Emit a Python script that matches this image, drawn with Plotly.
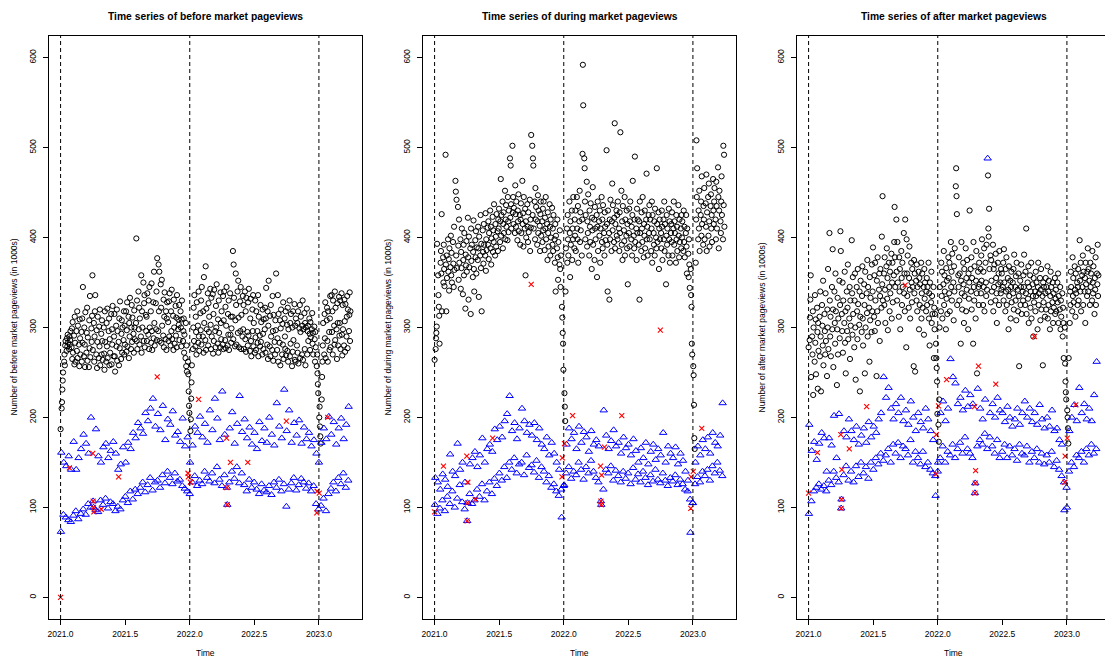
import pandas as pd
import plotly.graph_objects as go

# ---------------- DATA ----------------
# Weekday pageviews (in 1000s), one inner list per month, Jan 2021 .. Mar 2023
before_wd = [
    [187, 210, 217, 231, 241, 250, 262, 270, 258, 280, 285, 274, 288, 279, 292, 283, 276, 290, 281, 286, 296],
    [278, 299, 265, 306, 272, 291, 259, 312, 283, 262, 296, 274, 318, 266, 302, 281, 257, 309, 288, 270],
    [295, 262, 310, 283, 345, 268, 300, 281, 256, 317, 272, 294, 322, 263, 289, 256, 308, 277, 335, 267, 299, 284, 313],
    [358, 275, 305, 262, 290, 318, 336, 270, 297, 255, 284, 312, 266, 301, 279, 320, 258, 293, 270, 308, 285, 264],
    [300, 271, 253, 318, 284, 262, 305, 279, 321, 266, 296, 310, 258, 287, 272, 315, 259, 298, 281, 324, 268],
    [290, 315, 268, 251, 302, 279, 320, 263, 296, 284, 258, 310, 277, 329, 265, 293, 308, 272, 300, 286, 318, 270],
    [302, 281, 318, 273, 297, 328, 279, 312, 266, 305, 290, 333, 276, 300, 325, 284, 311, 293, 272, 319, 300, 287],
    [305, 399, 285, 330, 276, 340, 298, 322, 281, 310, 290, 358, 272, 318, 300, 350, 285, 327, 336, 278, 314, 296],
    [312, 285, 338, 292, 330, 276, 345, 300, 318, 283, 349, 296, 275, 328, 288, 362, 305, 280, 327, 298, 340, 286],
    [377, 296, 370, 318, 362, 285, 348, 322, 283, 353, 302, 291, 331, 278, 312, 339, 287, 318, 275, 310, 328],
    [306, 285, 329, 290, 338, 280, 318, 296, 342, 287, 313, 275, 331, 300, 282, 324, 291, 311, 278, 336, 298, 309],
    [303, 325, 286, 318, 300, 279, 309, 330, 285, 296, 310, 272, 292, 266, 305, 257, 280, 251, 262, 248, 229, 213, 205],
    [185, 198, 221, 239, 258, 276, 300, 322, 285, 336, 279, 312, 295, 270, 328, 302, 283, 340, 290, 274, 316],
    [297, 330, 281, 345, 290, 318, 272, 356, 305, 286, 368, 275, 321, 298, 338, 280, 327, 295, 312, 343],
    [303, 276, 333, 290, 337, 271, 315, 285, 342, 296, 278, 324, 300, 348, 282, 309, 272, 330, 294, 278, 339, 305, 287],
    [318, 281, 335, 276, 308, 340, 286, 323, 277, 302, 345, 280, 315, 292, 330, 275, 338, 292, 312, 283, 299],
    [312, 385, 287, 370, 333, 279, 308, 360, 325, 281, 340, 294, 352, 311, 278, 329, 296, 345, 276, 314, 290, 335],
    [298, 325, 276, 340, 287, 318, 273, 333, 295, 280, 328, 291, 343, 274, 310, 332, 285, 268, 320, 296, 336, 279],
    [305, 272, 330, 289, 275, 318, 296, 283, 336, 268, 312, 291, 279, 325, 284, 306, 270, 320, 293, 276, 309],
    [298, 322, 272, 310, 344, 281, 318, 265, 302, 352, 279, 313, 268, 325, 290, 275, 335, 296, 263, 314, 284, 270, 308],
    [297, 360, 275, 288, 336, 262, 315, 283, 308, 258, 299, 320, 270, 304, 281, 328, 265, 310, 290, 276, 318, 269],
    [303, 274, 322, 262, 298, 330, 268, 305, 282, 315, 257, 300, 273, 318, 286, 326, 264, 302, 262, 310, 280],
    [305, 272, 318, 260, 299, 325, 266, 295, 312, 270, 302, 330, 264, 298, 316, 276, 305, 258, 300, 321, 270, 296],
    [302, 285, 310, 293, 275, 306, 289, 298, 316, 282, 294, 270, 301, 287, 262, 295, 278, 257, 270, 249, 237, 227],
    [200, 212, 190, 179, 171, 220, 245, 262, 280, 305, 270, 315, 288, 328, 266, 308, 322, 285, 262, 318, 295, 275],
    [310, 335, 278, 336, 295, 318, 270, 330, 302, 281, 340, 286, 322, 298, 265, 327, 305, 280, 334, 291],
    [305, 330, 276, 338, 292, 269, 325, 298, 280, 331, 307, 273, 326, 290, 312, 335, 277, 320, 296, 314, 339, 285, 318],
]
during_wd = [
    [264, 276, 288, 294, 301, 393, 358, 336, 323, 313, 282, 372, 385, 360, 426, 318, 378, 350, 392, 365, 346],
    [492, 370, 318, 380, 355, 398, 362, 376, 341, 388, 367, 402, 358, 383, 350, 395, 371, 345, 412, 364],
    [463, 451, 380, 442, 366, 434, 391, 353, 420, 372, 398, 343, 384, 366, 410, 337, 375, 392, 358, 405, 321, 381, 369],
    [396, 362, 422, 378, 331, 401, 367, 388, 315, 410, 374, 392, 356, 384, 419, 365, 340, 397, 378, 407, 360, 389],
    [375, 412, 388, 334, 401, 380, 425, 366, 393, 318, 408, 384, 371, 415, 392, 380, 427, 363, 398, 386, 411],
    [392, 418, 376, 405, 430, 388, 412, 370, 399, 423, 384, 408, 395, 437, 380, 415, 401, 390, 426, 407, 385, 420],
    [410, 432, 395, 418, 465, 402, 425, 440, 388, 415, 428, 405, 452, 398, 420, 436, 412, 397, 445, 418, 406, 430],
    [488, 422, 480, 437, 410, 502, 428, 445, 415, 433, 405, 458, 426, 412, 440, 397, 430, 418, 448, 407, 425, 392],
    [420, 438, 405, 463, 415, 427, 390, 445, 410, 432, 358, 418, 400, 437, 412, 395, 428, 406, 442, 385, 420, 411],
    [514, 502, 425, 488, 480, 410, 440, 398, 455, 420, 434, 392, 418, 447, 405, 430, 413, 385, 426, 440, 402],
    [418, 395, 432, 408, 440, 386, 422, 410, 445, 398, 415, 375, 428, 405, 390, 437, 412, 380, 420, 400, 433, 392],
    [410, 385, 425, 398, 372, 415, 340, 402, 388, 420, 378, 353, 395, 370, 408, 365, 345, 380, 323, 311, 294, 282, 253],
    [227, 212, 196, 340, 388, 410, 372, 425, 398, 380, 440, 405, 356, 418, 392, 430, 375, 410, 398, 445, 388],
    [420, 402, 430, 385, 445, 410, 398, 435, 372, 418, 452, 395, 428, 408, 380, 420, 493, 592, 547, 488],
    [477, 440, 398, 425, 462, 390, 418, 405, 448, 380, 430, 412, 395, 438, 365, 422, 408, 456, 392, 420, 375, 434, 410],
    [398, 425, 356, 412, 440, 385, 418, 402, 430, 372, 410, 445, 395, 420, 388, 436, 405, 380, 428, 412, 397],
    [497, 415, 392, 340, 430, 405, 331, 420, 398, 442, 385, 418, 460, 408, 436, 395, 422, 527, 388, 415, 430, 402],
    [425, 398, 440, 410, 385, 428, 405, 517, 452, 392, 418, 375, 435, 408, 396, 445, 380, 420, 402, 430, 388, 415],
    [348, 405, 432, 390, 418, 440, 398, 412, 380, 425, 463, 402, 388, 420, 490, 395, 410, 375, 432, 405, 420],
    [392, 418, 331, 440, 405, 385, 428, 410, 395, 445, 378, 415, 402, 430, 388, 420, 471, 398, 412, 380, 425, 405, 436],
    [398, 420, 385, 410, 440, 372, 425, 405, 392, 418, 380, 432, 400, 388, 477, 415, 395, 428, 365, 410, 420, 398],
    [405, 388, 430, 412, 375, 420, 398, 440, 385, 415, 348, 402, 425, 392, 410, 380, 432, 398, 418, 372, 405],
    [415, 395, 428, 380, 410, 440, 392, 418, 405, 372, 425, 398, 412, 385, 436, 402, 378, 420, 395, 410, 388, 425],
    [400, 418, 385, 430, 395, 412, 378, 405, 425, 390, 360, 410, 382, 356, 398, 370, 344, 365, 336, 323, 282, 270],
    [257, 247, 214, 177, 165, 372, 420, 508, 445, 477, 398, 430, 410, 452, 385, 425, 440, 402, 468, 415, 392, 435],
    [420, 455, 398, 438, 412, 470, 385, 428, 445, 402, 460, 418, 390, 435, 448, 410, 425, 395, 465, 430],
    [415, 440, 455, 420, 398, 462, 435, 410, 478, 445, 388, 430, 452, 418, 405, 440, 468, 425, 398, 502, 436, 492, 412],
]
after_wd = [
    [278, 286, 311, 331, 358, 245, 290, 270, 318, 225, 300, 262, 336, 283, 309, 248, 322, 295, 232, 305, 274],
    [312, 268, 340, 290, 229, 325, 302, 280, 352, 258, 315, 296, 270, 338, 285, 246, 320, 300, 365, 276],
    [405, 330, 290, 312, 268, 345, 298, 387, 320, 256, 340, 305, 282, 360, 318, 236, 298, 333, 270, 310, 352, 288, 325],
    [407, 385, 315, 296, 350, 272, 330, 305, 362, 283, 318, 249, 340, 296, 322, 370, 287, 310, 345, 265, 330, 302],
    [397, 338, 292, 356, 315, 278, 330, 360, 300, 242, 345, 318, 287, 365, 326, 303, 340, 229, 312, 352, 295],
    [335, 368, 310, 280, 348, 325, 249, 362, 300, 338, 316, 375, 290, 345, 322, 262, 356, 308, 333, 295, 370, 318],
    [340, 389, 312, 358, 296, 372, 330, 246, 352, 318, 378, 305, 342, 360, 285, 335, 365, 322, 401, 348, 446, 330],
    [360, 325, 378, 342, 305, 368, 388, 332, 355, 297, 372, 345, 318, 362, 338, 382, 310, 350, 372, 328, 358, 395],
    [434, 378, 345, 420, 362, 330, 395, 350, 312, 378, 340, 365, 298, 385, 355, 325, 372, 345, 405, 338, 360, 318],
    [420, 278, 398, 360, 335, 380, 322, 355, 390, 342, 310, 372, 350, 328, 365, 345, 257, 375, 338, 360, 251],
    [352, 330, 370, 318, 345, 362, 298, 355, 325, 348, 372, 310, 338, 360, 322, 345, 292, 365, 332, 350, 318, 340],
    [355, 325, 345, 372, 310, 338, 280, 350, 328, 362, 305, 335, 315, 345, 266, 322, 298, 315, 282, 266, 255, 240, 204],
    [192, 173, 220, 300, 345, 318, 372, 335, 362, 310, 348, 385, 325, 358, 340, 298, 366, 332, 352, 315, 378],
    [355, 338, 372, 318, 395, 345, 362, 330, 382, 350, 308, 368, 340, 388, 457, 477, 446, 426, 325, 358],
    [345, 378, 330, 360, 282, 352, 395, 338, 320, 372, 348, 305, 365, 335, 388, 318, 355, 342, 375, 298, 360, 332, 350],
    [430, 365, 340, 378, 320, 355, 282, 395, 345, 330, 368, 310, 352, 385, 338, 249, 362, 345, 325, 372, 348],
    [365, 338, 380, 352, 398, 325, 362, 345, 388, 318, 372, 350, 335, 392, 342, 469, 410, 401, 432, 365, 380, 328],
    [375, 352, 340, 392, 318, 365, 345, 370, 330, 382, 355, 338, 305, 372, 348, 360, 325, 385, 350, 338, 365, 342],
    [360, 345, 372, 330, 387, 350, 318, 365, 340, 378, 325, 355, 342, 298, 368, 335, 352, 310, 345, 362, 328],
    [350, 338, 365, 320, 381, 345, 330, 357, 308, 372, 342, 318, 360, 335, 257, 352, 325, 345, 370, 315, 340, 330, 358],
    [345, 381, 325, 362, 338, 410, 315, 350, 332, 368, 305, 345, 358, 322, 340, 372, 310, 348, 335, 290, 355, 328],
    [340, 318, 362, 335, 350, 298, 345, 372, 325, 338, 355, 308, 342, 365, 320, 335, 258, 350, 328, 345, 312],
    [338, 355, 320, 345, 368, 310, 340, 325, 352, 298, 335, 362, 318, 345, 328, 350, 305, 338, 322, 355, 315, 332],
    [342, 318, 350, 328, 360, 305, 335, 320, 345, 298, 330, 312, 338, 290, 322, 305, 266, 300, 260, 240, 228, 220],
    [208, 200, 188, 171, 266, 305, 340, 325, 362, 345, 318, 378, 335, 355, 328, 368, 342, 312, 360, 338, 350, 325],
    [345, 365, 330, 397, 352, 340, 372, 318, 358, 345, 380, 325, 362, 340, 355, 305, 372, 348, 335, 362],
    [388, 340, 365, 352, 325, 372, 345, 360, 330, 385, 350, 338, 368, 315, 355, 342, 378, 325, 360, 348, 392, 335, 358],
]

# Weekend pageviews: every Saturday / Sunday from 2 Jan 2021 to 26 Mar 2023
before_sat = [73, 92, 89, 86, 84, 91, 96, 87, 93, 98, 92, 104, 100, 107, 97, 95, 108,
              103, 110, 99, 106, 104, 96, 101, 98, 108, 112, 105, 118, 109, 120, 115, 122, 128, 117,
              125, 133, 119, 128, 130, 122, 136, 127, 140, 133, 126, 138, 129, 131, 124, 121, 118,
              115, 128, 135, 124, 130, 126, 140, 133, 129, 138, 127, 145, 131, 124, 136, 122, 128, 140,
              132, 145, 127, 138, 125, 118, 131, 122, 128, 120, 115, 126, 119, 117, 124, 114, 128,
              122, 131, 118, 126, 101, 120, 127, 133, 119, 125, 132, 128, 121, 127, 118, 124, 104, 98,
              102, 110, 96, 115, 121, 128, 118, 133, 126, 138, 122, 130]
before_sun = [161, 150, 146, 157, 142, 173, 142, 155, 165, 181, 171, 160, 200, 100, 187, 157, 150,
              167, 171, 155, 163, 173, 160, 142, 148, 167, 150, 172, 165, 183, 177, 194, 188, 182, 205,
              196, 210, 221, 190, 204, 186, 213, 175, 198, 192, 207, 180, 184, 173, 199, 168, 178,
              150, 169, 190, 183, 201, 178, 193, 172, 208, 186, 221, 199, 175, 229, 181, 103, 188,
              206, 171, 193, 224, 184, 198, 177, 189, 170, 183, 165, 195, 174, 188, 172, 200, 181, 169,
              216, 190, 177, 231, 185, 208, 172, 194, 180, 197, 171, 189, 176, 183, 168, 175, 160,
              150, 172, 188, 176, 201, 181, 195, 170, 188, 199, 176, 192, 212]
during_sat = [103, 93, 99, 108, 96, 112, 104, 118, 100, 110, 125, 106, 98, 85, 115, 104, 108,
              120, 112, 126, 108, 118, 128, 115, 132, 124, 138, 130, 145, 133, 150, 142, 155, 138, 148,
              150, 136, 158, 144, 147, 139, 152, 133, 145, 140, 128, 135, 122, 126, 118, 113, 120,
              124, 138, 145, 132, 140, 136, 150, 142, 131, 145, 138, 152, 140, 133, 128, 107, 120, 142,
              138, 146, 130, 141, 135, 128, 140, 132, 138, 126, 144, 131, 137, 128, 140, 133, 125,
              136, 129, 142, 131, 127, 138, 130, 124, 133, 129, 136, 125, 131, 126, 120, 118, 109, 105,
              126, 134, 128, 140, 135, 142, 130, 146, 138, 150, 141, 135]
during_sun = [133, 128, 120, 137, 131, 123, 159, 140, 135, 171, 142, 150, 128, 105, 148, 155, 162,
              145, 158, 177, 150, 165, 170, 162, 187, 175, 190, 178, 196, 204, 224, 185, 194, 176, 188,
              210, 196, 183, 192, 180, 194, 175, 188, 170, 165, 178, 158, 172, 160, 150, 142, 89,
              125, 170, 188, 176, 183, 165, 190, 172, 184, 178, 162, 185, 170, 175, 168, 103, 208,
              180, 165, 174, 186, 168, 172, 160, 178, 166, 170, 158, 176, 163, 150, 166, 155, 172, 148,
              162, 170, 153, 165, 158, 183, 150, 168, 160, 155, 167, 148, 160, 152, 140, 130, 72,
              105, 150, 168, 158, 175, 165, 178, 160, 183, 172, 168, 180, 216]
after_sat = [93, 107, 118, 122, 126, 120, 124, 118, 130, 125, 140, 133, 128, 99, 136, 146, 130,
             140, 128, 146, 134, 150, 138, 145, 132, 150, 142, 155, 148, 160, 152, 158, 165, 150, 170,
             160, 172, 155, 168, 165, 158, 175, 150, 162, 155, 148, 162, 145, 150, 142, 138, 135,
             140, 155, 168, 150, 162, 158, 170, 155, 165, 172, 160, 178, 165, 160, 155, 116, 168, 175,
             170, 182, 165, 178, 168, 160, 175, 155, 162, 170, 155, 168, 158, 165, 152, 170, 160,
             158, 168, 150, 162, 155, 165, 150, 160, 148, 158, 150, 162, 145, 152, 142, 135, 128, 122,
             140, 150, 145, 158, 155, 162, 150, 165, 158, 170, 160, 165]
after_sun = [192, 163, 173, 153, 171, 183, 177, 140, 177, 169, 202, 155, 204, 109, 185, 178, 198,
             185, 175, 190, 170, 180, 188, 172, 195, 178, 190, 183, 198, 205, 245, 222, 233, 210, 198,
             215, 205, 222, 196, 208, 192, 218, 200, 185, 205, 195, 188, 210, 198, 185, 175, 113,
             150, 205, 218, 196, 210, 265, 245, 238, 215, 222, 208, 230, 212, 225, 215, 127, 232,
             210, 198, 220, 488, 205, 215, 200, 222, 208, 205, 195, 212, 200, 190, 198, 210, 192, 205,
             218, 200, 210, 195, 205, 192, 214, 198, 188, 200, 190, 208, 185, 188, 175, 170, 97,
             100, 185, 200, 214, 196, 233, 205, 215, 198, 210, 196, 225, 262]

# Holidays (red crosses)
holiday_dates = ["2021-01-01", "2021-01-26", "2021-04-02", "2021-04-03", "2021-04-04", "2021-04-05",
                 "2021-04-26", "2021-06-14", "2021-10-01", "2021-12-27", "2021-12-28", "2022-01-03",
                 "2022-01-26", "2022-04-15", "2022-04-16", "2022-04-17", "2022-04-18", "2022-04-26",
                 "2022-06-14", "2022-10-01", "2022-12-26", "2022-12-27", "2023-01-02", "2023-01-26"]
before_hol = [0, 144, 160, 107, 100, 95, 98, 134, 245, 138, 134, 128,
              220, 177, 122, 103, None, 150, 150, 196, 94, 118, 116, 200]
during_hol = [95, 146, 157, 85, 105, 128, 109, 177, 348, 134, 155, 171,
              202, 146, 107, 103, 136, 167, 202, 297, 99, 134, 140, 188]
after_hol = [116, 161, 181, 99, 109, 142, 165, 212, 347, 137, 181, 213,
             242, 212, 116, 127, 141, 257, 237, 290, 128, 157, 177, 214]

titles = ["Time series of before market pageviews",
          "Time series of during market pageviews",
          "Time series of after market pageviews"]
ylabels = ["Number of before market pageviews (in 1000s)",
           "Number of during market pageviews (in 1000s)",
           "Number of after market pageviews (in 1000s)"]
year_lines = [2021, 2022, 2023]
x_ticks = [2021.0, 2021.5, 2022.0, 2022.5, 2023.0]
y_ticks = [0, 100, 200, 300, 400, 500, 600]

# ---------------- HELPERS ----------------
def dec_year(d):
    return d.year + (d.dayofyear - 1) / 365.0

months = pd.period_range("2021-01", "2023-03", freq="M")

def weekday_xy(month_lists):
    xs, ys = [], []
    for per, vals in zip(months, month_lists):
        days = pd.bdate_range(per.start_time.normalize(), per.end_time.normalize())
        for d, v in zip(days, vals):
            xs.append(dec_year(d))
            ys.append(v)
    return xs, ys

end_date = pd.Timestamp("2023-03-31")
sats = pd.date_range("2021-01-02", end_date, freq="W-SAT")
suns = pd.date_range("2021-01-03", end_date, freq="W-SUN")

def weekend_xy(sat_vals, sun_vals):
    xs, ys = [], []
    for d, v in zip(sats, sat_vals):
        xs.append(dec_year(d)); ys.append(v)
    for d, v in zip(suns, sun_vals):
        xs.append(dec_year(d)); ys.append(v)
    return xs, ys

def holiday_xy(vals):
    xs, ys = [], []
    for ds, v in zip(holiday_dates, vals):
        if v is None:
            continue
        xs.append(dec_year(pd.Timestamp(ds)))
        ys.append(v)
    return xs, ys

# ---------------- FIGURE ----------------
W, H = 1105, 659
FONT = "Liberation Sans, Arial, Helvetica, sans-serif"
box_top, box_bot = 36, 619
panel_px = [(49, 362), (423, 736), (797, 1105)]
full_w = 313.0

x_lo = 2021.0
x_hi = dec_year(end_date)
pad = 0.04 * (x_hi - x_lo)
xr = [x_lo - pad, x_hi + pad]
y_lo, y_hi = 0, 600
ypad = 0.04 * (y_hi - y_lo)
yr = [y_lo - ypad, y_hi + ypad]

wd_sets = [before_wd, during_wd, after_wd]
we_sets = [(before_sat, before_sun), (during_sat, during_sun), (after_sat, after_sun)]
hol_sets = [before_hol, during_hol, after_hol]

fig = go.Figure()
annotations = []
shapes = []
ydom = [1 - box_bot / H, 1 - box_top / H]

for i in range(3):
    suf = "" if i == 0 else str(i + 1)
    xa, ya = "x" + suf, "y" + suf
    x0, x1 = panel_px[i]
    width_px = x1 - x0
    this_xr = [xr[0], xr[0] + (xr[1] - xr[0]) * width_px / full_w]

    wx, wy = weekday_xy(wd_sets[i])
    fig.add_trace(go.Scatter(x=wx, y=wy, mode="markers", xaxis=xa, yaxis=ya,
                             marker=dict(symbol="circle-open", size=5.2, color="black",
                                         line=dict(width=1, color="black")),
                             showlegend=False, hoverinfo="skip"))
    ex, ey = weekend_xy(*we_sets[i])
    fig.add_trace(go.Scatter(x=ex, y=ey, mode="markers", xaxis=xa, yaxis=ya,
                             marker=dict(symbol="triangle-up-open", size=6.5, color="#0000FF",
                                         line=dict(width=1, color="#0000FF")),
                             showlegend=False, hoverinfo="skip"))
    hx, hy = holiday_xy(hol_sets[i])
    fig.add_trace(go.Scatter(x=hx, y=hy, mode="markers", xaxis=xa, yaxis=ya,
                             marker=dict(symbol="x-thin-open", size=5, color="#FF0000",
                                         line=dict(width=1.1, color="#FF0000")),
                             showlegend=False, hoverinfo="skip"))

    axis_common = dict(showgrid=False, zeroline=False, showline=True, linecolor="black",
                       linewidth=1, ticks="outside", ticklen=5, tickwidth=1, tickcolor="black",
                       tickfont=dict(family=FONT, size=8.5, color="black"))
    fig.layout["xaxis" + suf] = dict(
        domain=[x0 / W, min(x1 / W, 1.0)], range=this_xr, anchor=ya,
        tickvals=x_ticks, ticktext=["%.1f" % t for t in x_ticks],
        mirror=True, ticklabelstandoff=2, **axis_common)
    fig.layout["yaxis" + suf] = dict(
        domain=ydom, range=yr, anchor=xa, tickvals=y_ticks,
        ticktext=[str(t) for t in y_ticks], tickangle=-90,
        mirror=(i < 2), ticklabelstandoff=4, **axis_common)

    for yl in year_lines:
        shapes.append(dict(type="line", xref=xa, yref=ya + " domain", x0=yl, x1=yl, y0=0, y1=1,
                           line=dict(color="black", width=1, dash="4px,3px")))

    cx = (x0 + x0 + full_w) / 2 / W
    annotations.append(dict(text="<b>%s</b>" % titles[i], xref="paper", yref="paper",
                            x=cx, y=1 - 17 / H, xanchor="center", yanchor="middle",
                            showarrow=False, font=dict(family=FONT, size=10.3, color="black")))
    annotations.append(dict(text="Time", xref="paper", yref="paper",
                            x=cx, y=1 - 653 / H, xanchor="center", yanchor="middle",
                            showarrow=False, font=dict(family=FONT, size=8.5, color="black")))
    annotations.append(dict(text=ylabels[i], xref="paper", yref="paper", textangle=-90,
                            x=(x0 - 36) / W, y=(ydom[0] + ydom[1]) / 2, xanchor="center",
                            yanchor="middle", showarrow=False,
                            font=dict(family=FONT, size=8.5, color="black")))

fig.update_layout(width=W, height=H, margin=dict(l=0, r=0, t=0, b=0),
                  paper_bgcolor="white", plot_bgcolor="white",
                  annotations=annotations, shapes=shapes, showlegend=False)

fig.write_html("out.html", config={"displayModeBar": False},
               post_script="document.body.style.margin='0';")
